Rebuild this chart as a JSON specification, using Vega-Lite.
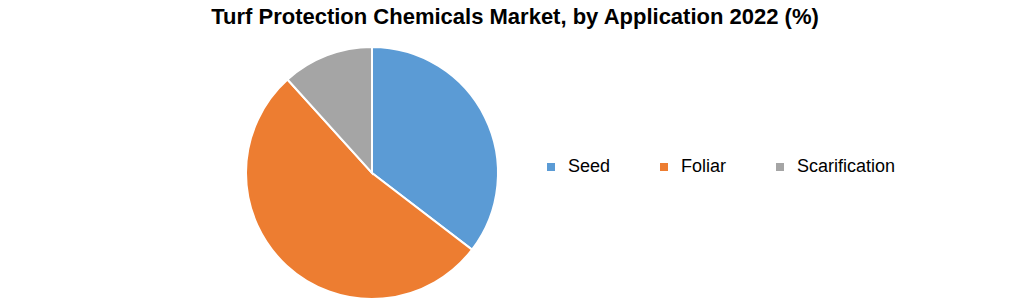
{
  "$schema": "https://vega.github.io/schema/vega-lite/v6.json",
  "width": 252,
  "height": 252,
  "autosize": {"type": "none"},
  "padding": {"left": 246, "top": 47, "right": 523, "bottom": 5},
  "background": "white",
  "title": {
    "text": "Turf Protection Chemicals Market, by Application 2022 (%)",
    "font": "Liberation Sans",
    "fontSize": 22,
    "fontWeight": "bold",
    "color": "#000000",
    "anchor": "middle",
    "frame": "group",
    "dx": 143,
    "offset": 14
  },
  "data": {
    "values": [
      {"application": "Seed", "share": 35.4, "rank": 1},
      {"application": "Foliar", "share": 52.9, "rank": 2},
      {"application": "Scarification", "share": 11.7, "rank": 3}
    ]
  },
  "mark": {"type": "arc", "stroke": "white", "strokeWidth": 2},
  "encoding": {
    "theta": {"field": "share", "type": "quantitative", "stack": true},
    "order": {"field": "rank", "type": "quantitative", "sort": "ascending"},
    "color": {
      "field": "application",
      "type": "nominal",
      "sort": ["Seed", "Foliar", "Scarification"],
      "scale": {"domain": ["Seed", "Foliar", "Scarification"], "range": ["#5B9BD5", "#ED7D31", "#A5A5A5"]},
      "legend": {
        "title": null,
        "orient": "none",
        "direction": "horizontal",
        "legendX": 296,
        "legendY": 111,
        "symbolType": "square",
        "symbolSize": 64,
        "symbolStrokeWidth": 0,
        "labelFont": "Liberation Sans",
        "labelFontSize": 18,
        "labelColor": "#000000",
        "labelOffset": 8,
        "columnPadding": 44
      }
    }
  },
  "config": {"view": {"stroke": null}}
}
